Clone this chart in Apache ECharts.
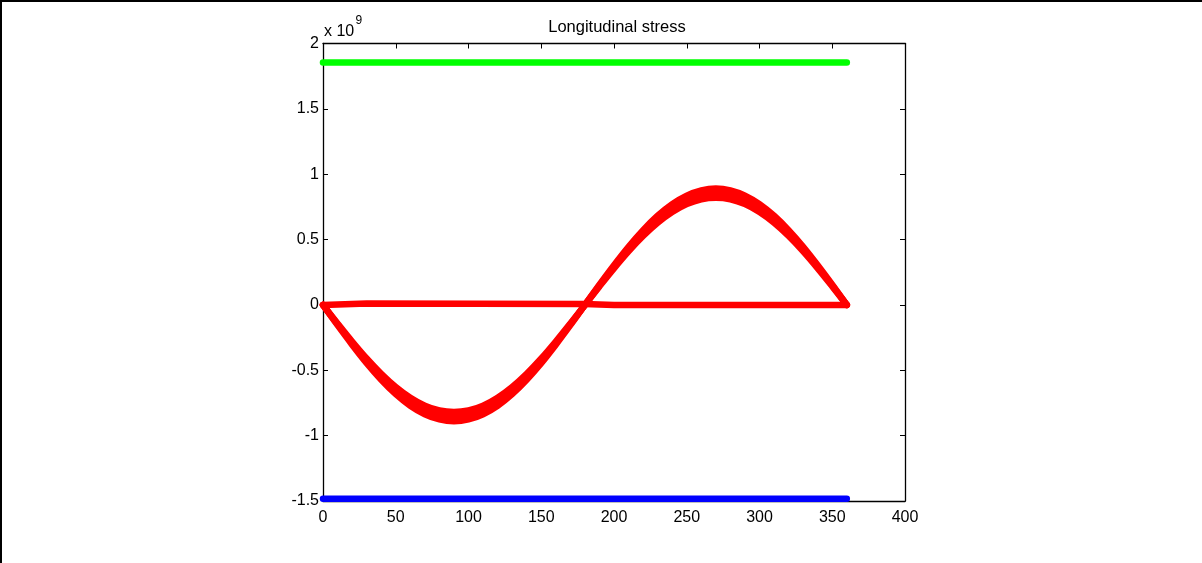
<!DOCTYPE html>
<html>
<head>
<meta charset="utf-8">
<script src="https://cdn.jsdelivr.net/npm/echarts@6/dist/echarts.min.js"></script>
<style>
html,body{margin:0;padding:0;background:#fff;}
#c{width:1202px;height:563px;}
</style>
</head>
<body>
<div id="c"></div>
<script>
// Data (stress values in units of 1e9)
var angles = [0,10,20,30,40,50,60,70,80,90,100,110,120,130,140,150,160,170,180,190,200,210,220,230,240,250,260,270,280,290,300,310,320,330,340,350,360];
var redInner = [0,-0.142,-0.280,-0.410,-0.527,-0.628,-0.710,-0.771,-0.808,-0.820,-0.808,-0.771,-0.710,-0.628,-0.527,-0.410,-0.280,-0.142,0,0.142,0.280,0.410,0.527,0.628,0.710,0.771,0.808,0.820,0.808,0.771,0.710,0.628,0.527,0.410,0.280,0.142,0];
var redMid = [0,-0.148,-0.292,-0.428,-0.550,-0.655,-0.740,-0.803,-0.842,-0.855,-0.842,-0.803,-0.740,-0.655,-0.550,-0.428,-0.292,-0.148,0,0.148,0.292,0.428,0.550,0.655,0.740,0.803,0.842,0.855,0.842,0.803,0.740,0.655,0.550,0.428,0.292,0.148,0];
var redOuter = [0,-0.155,-0.304,-0.445,-0.572,-0.682,-0.771,-0.836,-0.876,-0.890,-0.876,-0.836,-0.771,-0.682,-0.572,-0.445,-0.304,-0.155,0,0.155,0.304,0.445,0.572,0.682,0.771,0.836,0.876,0.890,0.876,0.836,0.771,0.682,0.572,0.445,0.304,0.155,0];
var flatX = [0,30,180,200,340,360];
var flatY = [0,0.010,0.007,0.000,0.000,0];
var greenX = [0,360];
var greenY = [1.855,1.855];
var blueX = [0,360];
var blueY = [-1.483,-1.483];
var xTicks = {min:0,max:400,interval:50};
var yTicks = {min:-1.5,max:2,interval:0.5};

function pairs(xs, ys){ return xs.map(function(x,i){return [x, ys[i]];}); }

var FONT = 'Liberation Sans, Arial, sans-serif';
var chart = echarts.init(document.getElementById('c'), null, {renderer:'canvas'});

function lineSeries(xs, ys, color, smooth){
  return {
    type:'line', xAxisIndex:0, yAxisIndex:0,
    data: pairs(xs, ys), showSymbol:false, symbol:'none', smooth: smooth ? 0.35 : false,
    lineStyle:{color:color, width:6.5, cap:'round', join:'round'},
    animation:false, silent:true, z:3
  };
}

function axis(extra){
  return Object.assign({
    type:'value', splitLine:{show:false},
    axisLine:{show:true, onZero:false, lineStyle:{color:'#000', width:1.3}},
    axisTick:{show:true, inside:true, length:5, lineStyle:{color:'#000', width:1}}
  }, extra);
}

chart.setOption({
  animation:false,
  backgroundColor:'#fff',
  title:{
    text:'Longitudinal stress', left:612, textAlign:'center', top:14,
    textStyle:{fontFamily:FONT, fontSize:16.5, fontWeight:'normal', color:'#000'}
  },
  grid:{left:323, top:43.5, width:582, height:457.5, show:false},
  xAxis:[
    axis({position:'bottom', min:xTicks.min, max:xTicks.max, interval:xTicks.interval,
      axisLabel:{show:true, margin:9, color:'#000', fontFamily:FONT, fontSize:16}}),
    axis({position:'top', min:xTicks.min, max:xTicks.max, interval:xTicks.interval,
      axisLabel:{show:false}})
  ],
  yAxis:[
    axis({position:'left', min:yTicks.min, max:yTicks.max, interval:yTicks.interval,
      axisLabel:{show:true, margin:4, color:'#000', fontFamily:FONT, fontSize:16, padding:[5,0,0,0]}}),
    axis({position:'right', min:yTicks.min, max:yTicks.max, interval:yTicks.interval,
      axisLabel:{show:false}})
  ],
  graphic:[
    {type:'rect', left:0, top:0, shape:{width:1202, height:2}, style:{fill:'#000'}, silent:true},
    {type:'rect', left:0, top:0, shape:{width:2, height:563}, style:{fill:'#000'}, silent:true},
    {type:'text', left:324, top:24, style:{text:'x 10', fontFamily:FONT, fontSize:16, fill:'#000'}},
    {type:'text', left:355.5, top:14.5, style:{text:'9', fontFamily:FONT, fontSize:12, fill:'#000'}}
  ],
  series:[
    lineSeries(greenX, greenY, '#00ff00', false),
    lineSeries(blueX, blueY, '#0000ff', false),
    lineSeries(flatX, flatY, '#ff0000', false),
    lineSeries(angles, redInner, '#ff0000', true),
    lineSeries(angles, redMid, '#ff0000', true),
    lineSeries(angles, redOuter, '#ff0000', true)
  ]
});
</script>
</body>
</html>
